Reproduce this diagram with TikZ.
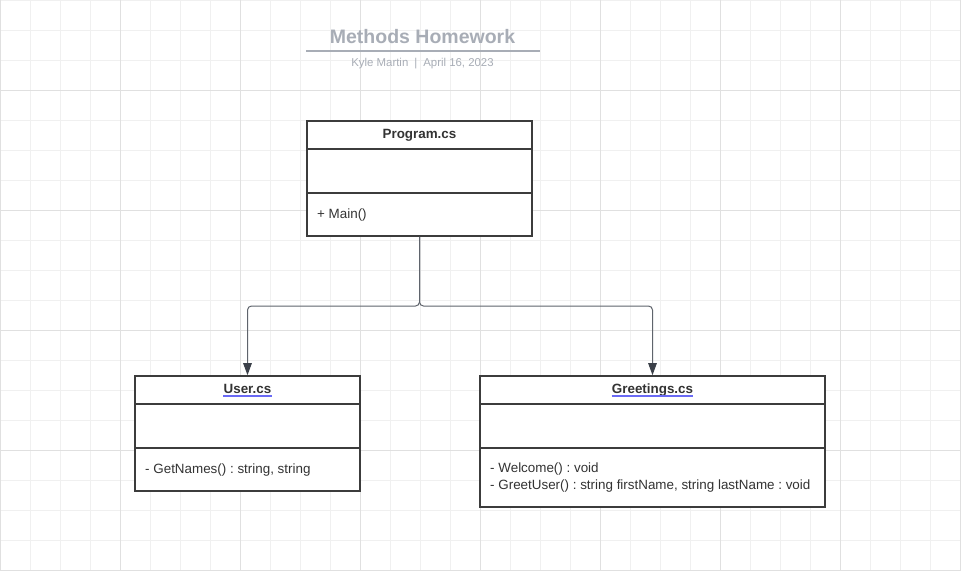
\documentclass[tikz,border=0pt]{standalone}
\usepackage{fontspec}
\setmainfont{Liberation Sans}
\frenchspacing
\usetikzlibrary{arrows.meta}
\definecolor{txt}{HTML}{333333}
\definecolor{bord}{HTML}{3C3C3C}
\definecolor{conncol}{HTML}{5F646C}
\definecolor{tipcol}{HTML}{3B4049}
\definecolor{titlecol}{HTML}{A8ADB6}
\definecolor{linkcol}{HTML}{6A6AF5}
\definecolor{minorg}{HTML}{F0F0F0}
\definecolor{majorg}{HTML}{E0E0E0}
\tikzset{
  classbox/.style={draw=bord, line width=1.6pt, fill=white, rectangle, inner sep=0pt},
  divider/.style={draw=bord, line width=1.6pt},
  headtxt/.style={font=\fontsize{13.4}{15}\selectfont\bfseries, text=txt, inner sep=0pt, anchor=base},
  memtxt/.style={font=\fontsize{13.4}{17}\selectfont, text=txt, inner sep=0pt, anchor=base west, align=left},
  linkline/.style={draw=linkcol, line width=1.6pt},
  conn/.style={draw=conncol, line width=1pt, rounded corners=4pt, -{Triangle[width=8.5pt,length=12pt,fill=tipcol,color=tipcol]}},
  minorline/.style={draw=minorg, line width=1pt},
  majorline/.style={draw=majorg, line width=1pt}
}
\begin{document}
\begin{tikzpicture}[x=1pt,y=-1pt]
\useasboundingbox (0,0) rectangle (961,571);
\fill[white] (0,0) rectangle (961,571);
% grid
\foreach \gx in {0,30,...,960} {\draw[minorline] (\gx+0.5,0) -- (\gx+0.5,571);}
\foreach \gy in {0,30,...,570} {\draw[minorline] (0,\gy+0.5) -- (961,\gy+0.5);}
\foreach \gx in {0,120,...,960} {\draw[majorline] (\gx+0.5,0) -- (\gx+0.5,571);}
\foreach \gy in {90,210,...,570} {\draw[majorline] (0,\gy+0.5) -- (961,\gy+0.5);}
% title
\node[font=\fontsize{19.5}{22}\selectfont\bfseries, text=titlecol, inner sep=0pt, anchor=base] (title) at (422.5,43) {Methods Homework};
\coordinate (ruleL) at (306,51);
\coordinate (ruleR) at (540,51);
\draw[draw=titlecol, line width=1.5pt] (ruleL) -- (ruleR);
\node[font=\fontsize{11.4}{13}\selectfont, text=titlecol, inner sep=0pt, anchor=base] (subtitle) at (422.5,66) {Kyle Martin\hspace{6pt}|\hspace{6pt}April 16, 2023};
% Program.cs
\node[classbox, minimum width=225pt, minimum height=115pt] (prog) at (419.5,178.5) {};
\draw[divider] (prog.west |- 0,149) -- (prog.east |- 0,149);
\draw[divider] (prog.west |- 0,193) -- (prog.east |- 0,193);
\node[headtxt] (proghead) at (419.5,138) {Program.cs};
\node[memtxt] (progmem) at (317,218) {+ Main()};
% User.cs
\node[classbox, minimum width=225pt, minimum height=115pt] (user) at (247.5,433.5) {};
\draw[divider] (user.west |- 0,404) -- (user.east |- 0,404);
\draw[divider] (user.west |- 0,448) -- (user.east |- 0,448);
\node[headtxt] (userhead) at (247.5,393) {User.cs};
\draw[linkline] ([yshift=-2.8pt]userhead.base west) -- ([yshift=-2.8pt]userhead.base east);
\node[memtxt] (usermem) at (145,473) {- GetNames() : string, string};
% Greetings.cs
\node[classbox, minimum width=345pt, minimum height=131pt] (greet) at (652.5,441.5) {};
\draw[divider] (greet.west |- 0,404) -- (greet.east |- 0,404);
\draw[divider] (greet.west |- 0,448) -- (greet.east |- 0,448);
\node[headtxt] (greethead) at (652.5,393) {Greetings.cs};
\draw[linkline] ([yshift=-2.8pt]greethead.base west) -- ([yshift=-2.8pt]greethead.base east);
\node[memtxt] (greetmem1) at (490,472) {- Welcome() : void};
\node[memtxt] (greetmem2) at (490,489) {- GreetUser() : string firstName, string lastName : void};
% connectors
\coordinate (junction) at (419.5,306);
\draw[conn] (prog.south) -- (junction) -| (user.north);
\draw[conn] (prog.south) -- (junction) -| (greet.north);
\end{tikzpicture}
\end{document}
